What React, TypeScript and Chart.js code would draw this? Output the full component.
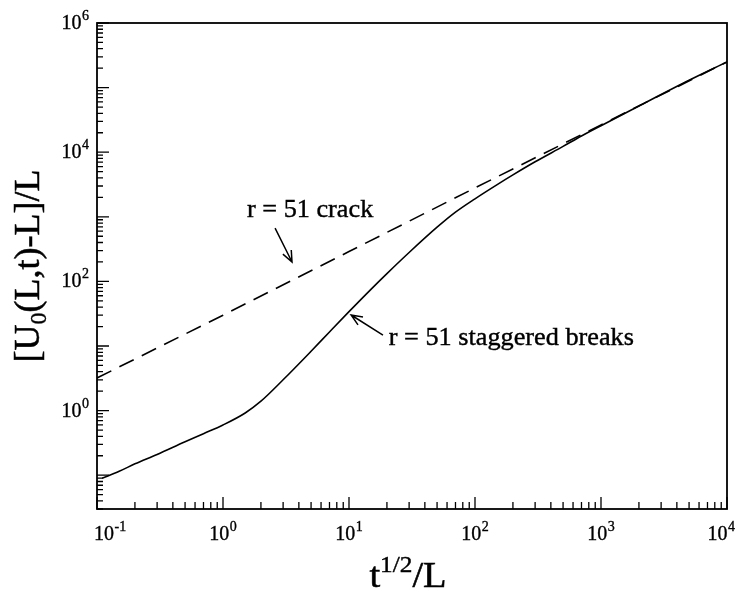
import React, { useEffect, useRef } from 'react';
import { Chart, registerables } from 'chart.js';

Chart.register(...registerables);

// ---- data ----
const staggeredX = [0.11, 0.15, 0.2, 0.3, 0.5, 0.7, 1, 1.5, 2, 3, 5, 7, 10, 15, 20, 30, 50, 70, 100, 150, 200, 300, 500, 700, 1000, 2000, 5000, 10000];
const staggeredY = [0.09, 0.115, 0.15, 0.21, 0.33, 0.44, 0.6, 0.92, 1.4, 3.0, 8.3, 16.5, 34, 76, 132, 280, 690, 1180, 1900, 3150, 4450, 7100, 12300, 17800, 25700, 52000, 130000, 250000];

const crackX = [0.1, 1, 10, 100, 1000, 10000];
const crackY = [3.2, 30, 290, 2800, 26500, 250000];

// tick labels: value and exponent of 10
const xMajor = [0.1, 1, 10, 100, 1000, 10000];
const xMajorExp = ['-1', '0', '1', '2', '3', '4'];
const yMajor = [1, 100, 10000, 1000000];
const yMajorExp = ['0', '2', '4', '6'];
const mantissas = [1, 2, 3, 4, 5, 6, 7, 8, 9];

const xRange = [0.1, 10000];
const yRange = [0.03, 1000000];

const noteTexts = ['r = 51 crack', 'r = 51 staggered breaks'];
const noteTextPos = [[1.55, 1000], [20.7, 10.4]];
const noteArrowFrom = [[2.59, 670], [18.6, 14.8]];
const noteArrowTo = [[3.53, 200], [10.4, 30.2]];

const FONT = '"Liberation Serif", "Times New Roman", serif';

function buildLogTicks(min: number, max: number) {
  const out: { value: number }[] = [];
  const d0 = Math.floor(Math.log10(min));
  const d1 = Math.ceil(Math.log10(max));
  for (let d = d0; d <= d1; d++) {
    for (const m of mantissas) {
      const v = Number((m * Math.pow(10, d)).toPrecision(8));
      if (v >= min * 0.999999 && v <= max * 1.000001) out.push({ value: v });
    }
  }
  return out;
}

function isMajor(v: number) {
  const l = Math.log10(v);
  return Math.abs(l - Math.round(l)) < 1e-6;
}

const MAIN = `20px ${FONT}`;
const SUP = `14px ${FONT}`;

function text(ctx: CanvasRenderingContext2D, s: string, x: number, y: number, stroke = 0.35) {
  ctx.fillText(s, x, y);
  if (stroke > 0) {
    ctx.lineWidth = stroke;
    ctx.strokeText(s, x, y);
  }
}

function powWidth(ctx: CanvasRenderingContext2D, exp: string) {
  ctx.font = MAIN;
  const a = ctx.measureText('10').width;
  ctx.font = SUP;
  const b = ctx.measureText(exp).width;
  return [a, b];
}

function drawPow(ctx: CanvasRenderingContext2D, exp: string, x: number, baseline: number) {
  const [a] = powWidth(ctx, exp);
  ctx.font = MAIN;
  text(ctx, '10', x, baseline);
  ctx.font = SUP;
  text(ctx, exp, x + a + 0.5, baseline - 9);
}

const framePlugin = {
  id: 'frameTicksNotes',
  afterDraw(chart: any) {
    const ctx = chart.ctx as CanvasRenderingContext2D;
    const { left, right, top, bottom } = chart.chartArea;
    const xs = chart.scales.x;
    const ys = chart.scales.y;
    ctx.save();
    ctx.strokeStyle = '#000';
    ctx.fillStyle = '#000';
    ctx.lineWidth = 1.8;
    ctx.strokeRect(left, top, right - left, bottom - top);

    // inward tick marks
    ctx.lineWidth = 1.3;
    ctx.beginPath();
    for (const t of xs.ticks) {
      const px = xs.getPixelForValue(t.value);
      if (px < left - 0.5 || px > right + 0.5) continue;
      const len = isMajor(t.value) ? 12 : 7;
      ctx.moveTo(px, bottom);
      ctx.lineTo(px, bottom - len);
    }
    for (const t of ys.ticks) {
      const py = ys.getPixelForValue(t.value);
      if (py < top - 0.5 || py > bottom + 0.5) continue;
      const len = isMajor(t.value) ? 12 : 6;
      ctx.moveTo(left, py);
      ctx.lineTo(left + len, py);
    }
    ctx.stroke();

    // tick labels with superscripts
    ctx.textAlign = 'left';
    ctx.textBaseline = 'alphabetic';
    xMajor.forEach((v, i) => {
      const px = xs.getPixelForValue(v);
      const [a, b] = powWidth(ctx, xMajorExp[i]);
      const w = a + b + 0.5;
      let x0 = px - w / 2;
      if (x0 < 94) x0 = 94;
      if (x0 + w > 735) x0 = 735 - w;
      drawPow(ctx, xMajorExp[i], x0, bottom + 31);
    });
    yMajor.forEach((v, i) => {
      const py = ys.getPixelForValue(v);
      const [a, b] = powWidth(ctx, yMajorExp[i]);
      const w = a + b + 0.5;
      drawPow(ctx, yMajorExp[i], left - 8 - w, py + 6);
    });

    // annotations
    noteTexts.forEach((txt, i) => {
      const tx = xs.getPixelForValue(noteTextPos[i][0]);
      const ty = ys.getPixelForValue(noteTextPos[i][1]);
      ctx.save();
      ctx.translate(tx, ty);
      ctx.scale(1.05, 1);
      ctx.font = `25px ${FONT}`;
      text(ctx, txt, 0, 0, 0.4);
      ctx.restore();
      const fx = xs.getPixelForValue(noteArrowFrom[i][0]);
      const fy = ys.getPixelForValue(noteArrowFrom[i][1]);
      const ex = xs.getPixelForValue(noteArrowTo[i][0]);
      const ey = ys.getPixelForValue(noteArrowTo[i][1]);
      const ang = Math.atan2(ey - fy, ex - fx);
      const hl = 12;
      const ha = 0.4;
      ctx.lineWidth = 1.5;
      ctx.beginPath();
      ctx.moveTo(fx, fy);
      ctx.lineTo(ex, ey);
      ctx.moveTo(ex - hl * Math.cos(ang - ha), ey - hl * Math.sin(ang - ha));
      ctx.lineTo(ex, ey);
      ctx.lineTo(ex - hl * Math.cos(ang + ha), ey - hl * Math.sin(ang + ha));
      ctx.stroke();
    });

    // x axis title: t^{1/2}/L
    ctx.save();
    ctx.translate(408, 587);
    ctx.scale(1.1, 1);
    const big = `35px ${FONT}`;
    const small = `23px ${FONT}`;
    ctx.font = big;
    const wT = ctx.measureText('t').width;
    const wL = ctx.measureText('/L').width;
    ctx.font = small;
    const wS = ctx.measureText('1/2').width;
    let x0 = -(wT + wS + wL) / 2;
    ctx.font = big;
    text(ctx, 't', x0, 0, 0.5);
    x0 += wT;
    ctx.font = small;
    text(ctx, '1/2', x0, -15, 0.4);
    x0 += wS;
    ctx.font = big;
    text(ctx, '/L', x0, 0, 0.5);
    ctx.restore();

    // y axis title: [U_0(L,t)-L]/L rotated
    ctx.save();
    ctx.translate(39, 266);
    ctx.rotate(-Math.PI / 2);
    const yb = `36px ${FONT}`;
    const ysub = `24px ${FONT}`;
    ctx.font = yb;
    const a1 = ctx.measureText('[U').width;
    const a3 = ctx.measureText('(L,t)-L]/L').width;
    ctx.font = ysub;
    const a2 = ctx.measureText('0').width;
    let y0 = -(a1 + a2 + a3) / 2;
    ctx.font = yb;
    text(ctx, '[U', y0, 0, 0.5);
    y0 += a1;
    ctx.font = ysub;
    text(ctx, '0', y0, 7, 0.4);
    y0 += a2;
    ctx.font = yb;
    text(ctx, '(L,t)-L]/L', y0, 0, 0.5);
    ctx.restore();

    ctx.restore();
  },
};

export default function App() {
  const ref = useRef<HTMLCanvasElement | null>(null);
  useEffect(() => {
    if (!ref.current) return;
    const chart = new Chart(ref.current, {
      type: 'line',
      data: {
        datasets: [
          {
            label: 'r = 51 staggered breaks',
            data: staggeredX.map((x, i) => ({ x, y: staggeredY[i] })),
            borderColor: '#000',
            borderWidth: 1.6,
            pointRadius: 0,
            fill: false,
            cubicInterpolationMode: 'monotone',
          },
          {
            label: 'r = 51 crack',
            data: crackX.map((x, i) => ({ x, y: crackY[i] })),
            borderColor: '#000',
            borderWidth: 1.6,
            borderDash: [16, 9],
            pointRadius: 0,
            fill: false,
          },
        ],
      },
      options: {
        responsive: false,
        animation: false,
        layout: { padding: { top: 23, right: 9, left: 0, bottom: 0 } },
        plugins: { legend: { display: false }, tooltip: { enabled: false } },
        scales: {
          x: {
            type: 'logarithmic',
            min: xRange[0],
            max: xRange[1],
            grid: { display: false, drawTicks: false },
            border: { display: false },
            afterBuildTicks: (s: any) => {
              s.ticks = buildLogTicks(xRange[0], xRange[1]);
            },
            afterFit: (s: any) => {
              s.height = 85;
              s.paddingLeft = 0;
              s.paddingRight = 0;
            },
            ticks: { display: false, autoSkip: false },
          },
          y: {
            type: 'logarithmic',
            min: yRange[0],
            max: yRange[1],
            grid: { display: false, drawTicks: false },
            border: { display: false },
            afterBuildTicks: (s: any) => {
              s.ticks = buildLogTicks(yRange[0], yRange[1]);
            },
            afterFit: (s: any) => {
              s.width = 97;
              s.paddingTop = 0;
              s.paddingBottom = 0;
            },
            ticks: { display: false, autoSkip: false },
          },
        },
      },
      plugins: [framePlugin],
    } as any);
    return () => chart.destroy();
  }, []);
  return (
    <div style={{ position: 'absolute', left: 0, top: 0, width: 736, height: 594, background: '#fff' }}>
      <canvas ref={ref} width={736} height={594} />
    </div>
  );
}
